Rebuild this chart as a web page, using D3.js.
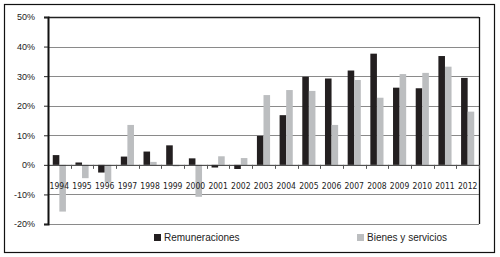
<!DOCTYPE html>
<html>
<head>
<meta charset="utf-8">
<style>
  body { margin: 0; background: #fff; }
  svg { display: block; }
  .tick text { font-family: Arial, "Liberation Sans", sans-serif; }
</style>
</head>
<body>
<svg id="chart" width="500" height="257"></svg>
<script src="https://cdn.jsdelivr.net/npm/d3@7"></script>
<script>
  // data (percent)
  var years = ['1994','1995','1996','1997','1998','1999','2000','2001','2002','2003',
               '2004','2005','2006','2007','2008','2009','2010','2011','2012']
  var remuneraciones = [3.3, 0.8, -2.6, 2.8, 4.5, 6.6, 2.2, -0.9, -1.4, 9.8,
                        16.8, 29.8, 29.2, 31.9, 37.6, 26.1, 25.9, 36.8, 29.4]
  var bienes = [-15.8, -4.5, -6.0, 13.5, 1.0, -0.5, -10.8, 2.9, 2.3, 23.6,
                25.3, 25.0, 13.5, 28.7, 22.7, 30.7, 31.1, 33.2, 18.0]
  var yTicks = [-20, -10, 0, 10, 20, 30, 40, 50]
  var seriesNames = ['Remuneraciones', 'Bienes y servicios']
  var seriesColors = ['#231f20', '#bcbec0']

  var svg = d3.select('#chart')

  // outer frame
  svg.append('rect')
    .attr('x', 4.5).attr('y', 4.5)
    .attr('width', 490).attr('height', 248)
    .attr('fill', 'none').attr('stroke', '#111').attr('stroke-width', 1.2)

  // plot area (don't call it "top", that's window.top)
  var pLeft = 48, pRight = 479, pTop = 17, pBottom = 224

  var x = d3.scaleBand()
    .domain(years)
    .range([pLeft, pRight])
    .paddingInner(0.42)
    .paddingOuter(0.21)

  var x1 = d3.scaleBand()
    .domain(seriesNames)
    .range([0, x.bandwidth()])

  var y = d3.scaleLinear()
    .domain([-20, 50])
    .range([pBottom, pTop])

  // gridlines
  svg.append('g')
    .selectAll('line')
    .data(yTicks.filter(d => d != 0 && d != 50))
    .enter().append('line')
    .attr('x1', pLeft).attr('x2', pRight)
    .attr('y1', d => Math.round(y(d)) + 0.5).attr('y2', d => Math.round(y(d)) + 0.5)
    .attr('stroke', '#8a8a8a').attr('stroke-width', 1)

  // bars
  var data = years.map((yr, i) => ({year: yr, vals: [remuneraciones[i], bienes[i]]}))
  var groups = svg.append('g').selectAll('g')
    .data(data)
    .enter().append('g')
    .attr('transform', d => 'translate(' + x(d.year) + ',0)')

  groups.selectAll('rect')
    .data(d => d.vals.map((v, j) => ({v: v, name: seriesNames[j], color: seriesColors[j]})))
    .enter().append('rect')
    .attr('x', d => x1(d.name))
    .attr('width', x1.bandwidth())
    .attr('y', d => y(Math.max(0, d.v)))
    .attr('height', d => Math.abs(y(d.v) - y(0)))
    .attr('fill', d => d.color)

  // top and right frame of plot area
  svg.append('line')
    .attr('x1', pLeft).attr('x2', pRight).attr('y1', pTop + 0.5).attr('y2', pTop + 0.5)
    .attr('stroke', '#222').attr('stroke-width', 1.3)
  svg.append('line')
    .attr('x1', pRight + 0.5).attr('x2', pRight + 0.5).attr('y1', pTop).attr('y2', pBottom)
    .attr('stroke', '#111').attr('stroke-width', 1.3)

  // zero line with ticks at band boundaries
  svg.append('line')
    .attr('x1', pLeft).attr('x2', pRight)
    .attr('y1', y(0) + 0.5).attr('y2', y(0) + 0.5)
    .attr('stroke', '#333').attr('stroke-width', 1)
  svg.append('g')
    .selectAll('line')
    .data(years)
    .enter().append('line')
    .attr('x1', (d, i) => Math.round(pLeft + x.step() * (i + 1)) + 0.5)
    .attr('x2', (d, i) => Math.round(pLeft + x.step() * (i + 1)) + 0.5)
    .attr('y1', y(0)).attr('y2', y(0) + 4)
    .attr('stroke', '#555').attr('stroke-width', 1)

  // year labels under zero line
  svg.append('g')
    .selectAll('text')
    .data(years)
    .enter().append('text')
    .attr('x', d => x(d) + x.bandwidth() / 2)
    .attr('y', 189)
    .attr('text-anchor', 'middle')
    .style('font-family', '"Liberation Sans Narrow", "DejaVu Sans Condensed", sans-serif')
    .style('font-size', '8.5px')
    .attr('fill', '#222')
    .text(d => d)

  // y axis
  var yAxis = d3.axisLeft(y)
    .tickValues(yTicks)
    .tickSize(4)
    .tickPadding(9)
    .tickFormat(d => d + '%')

  var ga = svg.append('g')
    .attr('transform', 'translate(' + pLeft + ',0)')
    .call(yAxis)
  ga.select('.domain').attr('stroke', '#111').attr('stroke-width', 2)
  ga.selectAll('.tick line').attr('stroke', '#222')
  ga.selectAll('.tick text').style('font-size', '9px').attr('fill', '#222')

  // legend
  var legendX = [154, 357]
  var lg = svg.append('g').selectAll('g')
    .data(seriesNames)
    .enter().append('g')
    .attr('transform', (d, i) => 'translate(' + legendX[i] + ',234)')
  lg.append('rect')
    .attr('width', 7).attr('height', 7)
    .attr('fill', (d, i) => seriesColors[i])
  lg.append('text')
    .attr('x', 10).attr('y', 7)
    .style('font-family', 'Arial, "Liberation Sans", sans-serif')
    .style('font-size', '10px')
    .attr('fill', '#222')
    .text(d => d)
</script>
</body>
</html>
